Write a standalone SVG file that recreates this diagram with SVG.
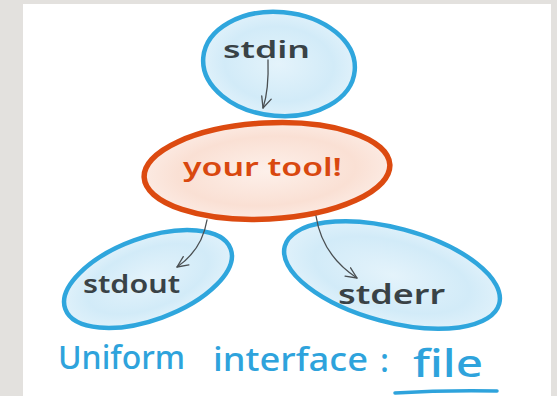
<svg xmlns="http://www.w3.org/2000/svg" width="557" height="396" viewBox="0 0 557 396">
  <style>
    .blue { fill: url(#gBlue); stroke: #2fa6dd; stroke-width: 4.5; }
    .orange { fill: url(#gOrange); stroke: #dc4a10; stroke-width: 5.5; }
    .lbl { font-family: "Noto Sans", "DejaVu Sans", sans-serif; font-weight: 600; fill: #394246; }
    .conn { fill: none; stroke: #4a4f52; stroke-width: 1.3; stroke-linecap: round; }
    .cap { font-family: "Noto Sans", "DejaVu Sans", sans-serif; font-size: 33px; font-weight: 500; fill: #2ea3dc; }
  </style>
  <defs>
    <radialGradient id="gBlue" cx="0.5" cy="0.5" r="0.6">
      <stop offset="0" stop-color="#e4f3fb"/>
      <stop offset="0.6" stop-color="#d2ebf8"/>
      <stop offset="1" stop-color="#e8f5fc"/>
    </radialGradient>
    <radialGradient id="gOrange" cx="0.5" cy="0.5" r="0.6">
      <stop offset="0" stop-color="#fdf0ea"/>
      <stop offset="0.6" stop-color="#fae0d4"/>
      <stop offset="1" stop-color="#fdf1ec"/>
    </radialGradient>
    <marker id="ah" viewBox="-12 -7 14 14" refX="0" refY="0" markerWidth="14" markerHeight="14" markerUnits="userSpaceOnUse" orient="auto">
      <path d="M -11 -5 L 0 0 L -11 5" fill="none" stroke="#4a4f52" stroke-width="1.3" stroke-linecap="round" stroke-linejoin="round"/>
    </marker>
  </defs>

  <rect x="0" y="0" width="557" height="396" fill="#e3e1de"/>
  <rect x="23" y="4" width="528" height="392" fill="#ffffff"/>

  <g id="stdin">
    <ellipse class="blue" cx="279" cy="64" rx="76" ry="52" transform="rotate(5 279 64)"/>
    <text class="lbl" x="223" y="58" font-size="23" textLength="87" lengthAdjust="spacingAndGlyphs">stdin</text>
  </g>

  <g id="your-tool">
    <ellipse class="orange" cx="267" cy="171" rx="123" ry="48" transform="rotate(-3 267 171)"/>
    <text class="lbl" x="183" y="176" font-size="25" font-weight="500" textLength="159" lengthAdjust="spacingAndGlyphs" style="fill:#d9480f">your tool!</text>
  </g>

  <g id="stdout">
    <ellipse class="blue" cx="148" cy="279" rx="88" ry="41" transform="rotate(-20 148 279)"/>
    <text class="lbl" x="83" y="293" font-size="25" textLength="97" lengthAdjust="spacingAndGlyphs">stdout</text>
  </g>

  <g id="stderr">
    <ellipse class="blue" cx="392" cy="275" rx="111" ry="47" transform="rotate(15 392 275)"/>
    <text class="lbl" x="338" y="304" font-size="27" textLength="107" lengthAdjust="spacingAndGlyphs">stderr</text>
  </g>

  <g id="connectors">
    <path class="conn" d="M 268 60 Q 269 90 263 108" marker-end="url(#ah)"/>
    <path class="conn" d="M 207 220 Q 202 250 177 267" marker-end="url(#ah)"/>
    <path class="conn" d="M 316 216 Q 322 255 357 278" marker-end="url(#ah)"/>
  </g>

  <g id="caption">
    <text class="cap" x="58" y="369" textLength="127" lengthAdjust="spacingAndGlyphs">Uniform</text>
    <text class="cap" x="213" y="371" textLength="155" lengthAdjust="spacingAndGlyphs">interface</text>
    <text class="cap" x="380" y="372">:</text>
    <text class="cap" x="413" y="377" style="font-size:38px" textLength="70" lengthAdjust="spacingAndGlyphs">file</text>
    <path d="M 395 393 Q 445 390 497 391" fill="none" stroke="#2ea3dc" stroke-width="3.5" stroke-linecap="round"/>
  </g>
</svg>
